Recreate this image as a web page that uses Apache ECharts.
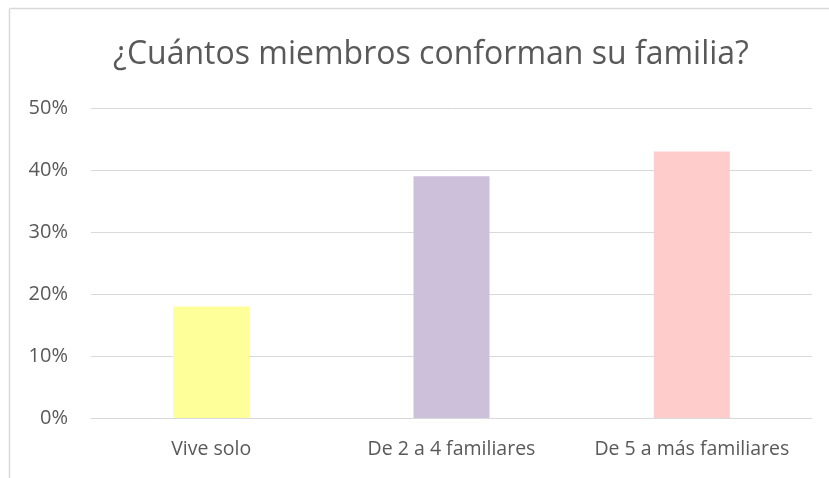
<!DOCTYPE html>
<html>
<head>
<meta charset="utf-8">
<script src="https://cdn.jsdelivr.net/npm/echarts@6/dist/echarts.min.js"></script>
<style>
  html, body { margin: 0; padding: 0; background: #fff; }
  #chart { width: 829px; height: 478px; }
</style>
</head>
<body>
<div id="chart"></div>
<script>
var categories = ['Vive solo', 'De 2 a 4 familiares', 'De 5 a más familiares'];
var values = [18, 39, 43];
var barColors = ['#FFFF99', '#CCC0DA', '#FFCCCC'];
var yTicks = [0, 10, 20, 30, 40, 50];

var chart = echarts.init(document.getElementById('chart'));
var option = {
    backgroundColor: '#fff',
    animation: false,
    title: {
        text: '¿Cuántos miembros conforman su familia?',
        left: 426,
        top: 34,
        textAlign: 'center',
        textStyle: {
            fontFamily: 'Open Sans',
            fontSize: 32,
            fontWeight: 'normal',
            color: '#595959'
        }
    },
    graphic: [
        { type: 'line', shape: { x1: 9.5, y1: 8.5, x2: 829, y2: 8.5 }, style: { stroke: '#d9d9d9', lineWidth: 1.5 } },
        { type: 'line', shape: { x1: 9.5, y1: 8.5, x2: 9.5, y2: 478 }, style: { stroke: '#d9d9d9', lineWidth: 1.5 } }
    ],
    grid: {
        left: 91,
        right: 17,
        top: 108,
        bottom: 60,
        containLabel: false
    },
    xAxis: {
        type: 'category',
        data: categories,
        axisTick: { show: false },
        axisLine: { lineStyle: { color: '#d9d9d9', width: 1 } },
        axisLabel: {
            interval: 0,
            hideOverlap: false,
            fontFamily: 'Open Sans',
            fontSize: 19.5,
            color: '#595959',
            margin: 21
        }
    },
    yAxis: {
        type: 'value',
        min: yTicks[0],
        max: yTicks[yTicks.length - 1],
        interval: 10,
        axisLine: { show: false },
        axisTick: { show: false },
        splitLine: { lineStyle: { color: '#d9d9d9', width: 1 } },
        axisLabel: {
            fontFamily: 'Open Sans',
            fontSize: 20,
            color: '#595959',
            margin: 23,
            formatter: '{value}%'
        }
    },
    series: [
        {
            type: 'bar',
            barWidth: 76,
            data: values.map(function (v, i) {
                return { value: v, itemStyle: { color: barColors[i] } };
            })
        }
    ]
};
chart.setOption(option);
</script>
</body>
</html>
